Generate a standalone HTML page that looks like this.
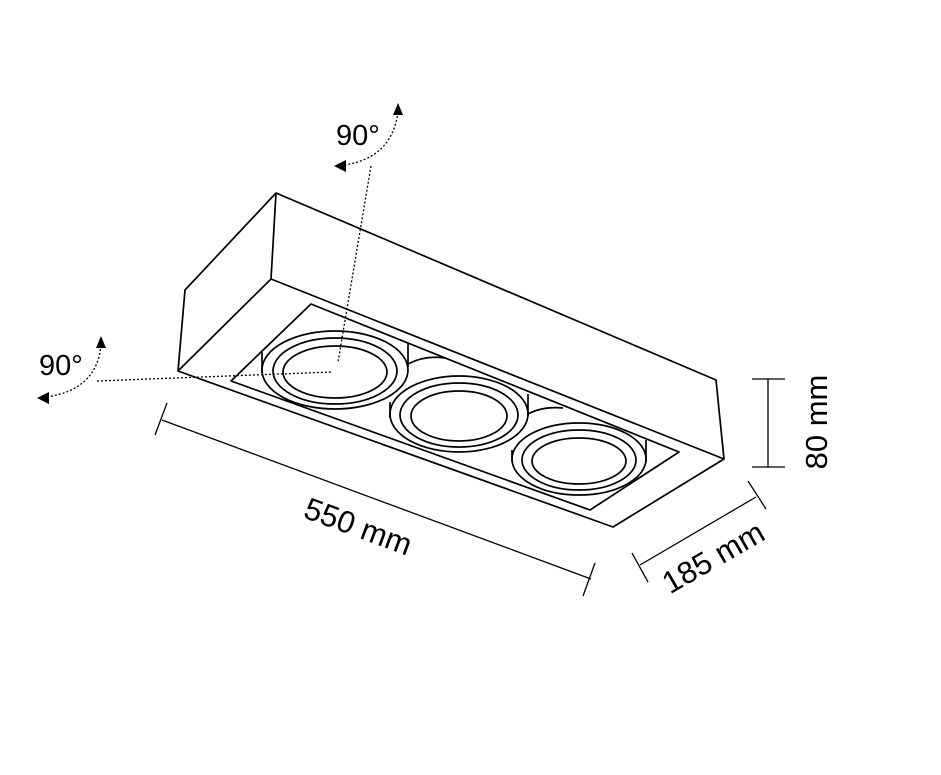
<!DOCTYPE html>
<html><head><style>html,body{margin:0;padding:0;background:#fff}svg{display:block}</style></head>
<body>
<svg width="941" height="775" viewBox="0 0 941 775" xmlns="http://www.w3.org/2000/svg">
<g fill="none" stroke="#000" stroke-width="1.7" stroke-linejoin="round">
<!-- box -->
<path d="M276,193 L716,380 L724,459 L613,527 L178,371 L185,290 Z"/>
<line x1="276" y1="193" x2="271" y2="279"/>
<line x1="178" y1="371" x2="271" y2="279"/>
<line x1="271" y1="279" x2="724" y2="459"/>
<!-- inner panel -->
<path d="M311,304 L231,381 L590,510 L679,452 Z"/>
<!-- ring cylinders -->
<line x1="262" y1="352" x2="262" y2="373"/>
<line x1="408" y1="343" x2="408" y2="367"/>
<path d="M408,364 Q425,355 445,358"/>
<line x1="390" y1="402" x2="390" y2="418"/>
<line x1="528" y1="394" x2="528" y2="416"/>
<path d="M528,414 Q543,406 563,408"/>
<line x1="512" y1="450" x2="512" y2="462"/>
<line x1="646" y1="440" x2="646" y2="462"/>
<!-- rings -->
<ellipse cx="335" cy="370" rx="73" ry="39"/>
<ellipse cx="335" cy="371" rx="62" ry="33"/>
<ellipse cx="335" cy="372" rx="52" ry="26"/>
<ellipse cx="459" cy="414" rx="69" ry="38"/>
<ellipse cx="459" cy="415" rx="59" ry="32"/>
<ellipse cx="459" cy="416" rx="48" ry="25"/>
<ellipse cx="579" cy="459" rx="67" ry="36"/>
<ellipse cx="579" cy="460" rx="57" ry="30"/>
<ellipse cx="579" cy="461" rx="47" ry="23"/>
<!-- dimensions -->
<g stroke-width="1.3">
<line x1="162" y1="420" x2="591" y2="579"/>
<line x1="167" y1="403" x2="155" y2="435"/>
<line x1="595" y1="563" x2="583" y2="596"/>
<line x1="640" y1="565" x2="756" y2="497"/>
<line x1="632" y1="553" x2="648" y2="582"/>
<line x1="748" y1="481" x2="766" y2="509"/>
<line x1="768" y1="379" x2="768" y2="467"/>
<line x1="752" y1="379" x2="785" y2="379"/>
<line x1="752" y1="467" x2="785" y2="467"/>
</g>
</g>
<!-- dotted axes -->
<g fill="none" stroke="#000" stroke-width="1.3" stroke-dasharray="2,2">
<line x1="371" y1="166" x2="338" y2="362"/>
<line x1="97" y1="381" x2="332" y2="372"/>
<path d="M398,112 Q392,158 344,165"/>
<path d="M101,345 Q97,390 46,397"/>
</g>
<g fill="#000">
<path d="M398,103 L393,115 L403,115 Z"/>
<path d="M334,166 L346,160 L346,172 Z"/>
<path d="M101,336 L96,348 L106,348 Z"/>
<path d="M37,398 L49,392 L49,404 Z"/>
</g>
<g font-family="Liberation Sans, sans-serif" font-size="29" fill="#000">
<text x="336" y="145">90°</text>
<text x="39" y="375">90°</text>
<text x="358" y="537" text-anchor="middle" font-size="31" transform="rotate(20.3 358 527)">550 mm</text>
<text x="713" y="568" text-anchor="middle" font-size="31" transform="rotate(-30 713 557)">185 mm</text>
<text x="816" y="433" text-anchor="middle" font-size="31" transform="rotate(-90 816 422)">80 mm</text>
</g>
</svg>
</body></html>
